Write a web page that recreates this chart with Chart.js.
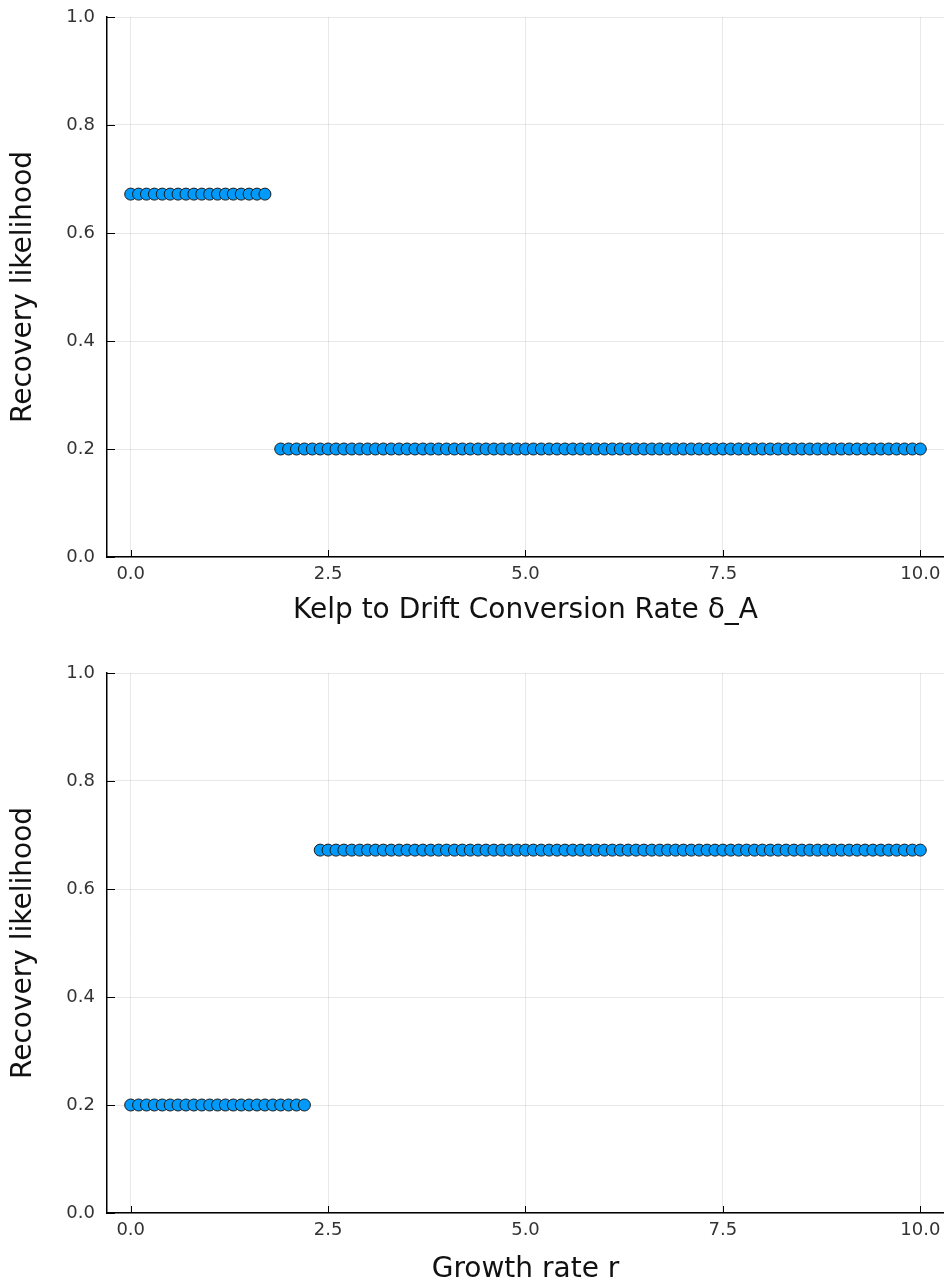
<!DOCTYPE html>
<html>
<head>
<meta charset="utf-8">
<script src="https://cdn.jsdelivr.net/npm/chart.js@4/dist/chart.umd.min.js"></script>
<style>
  body { margin: 0; background: #fff; }
  .box { position: absolute; left: 0; width: 944px; }
  #top { top: 0; height: 640px; }
  #bottom { top: 640px; height: 645px; }
</style>
</head>
<body>
<div class="box" id="top"><canvas id="c1"></canvas></div>
<div class="box" id="bottom"><canvas id="c2"></canvas></div>
<script>
// x grid 0:0.1:10, one value missing in each run
const deltaA = [];
const deltaLikelihood = [];
const growthR = [];
const growthLikelihood = [];

// top panel: 0.0..1.7 -> 0.672, 1.9..10.0 -> 0.2
const topHigh = 0.672, topLow = 0.2;
for (let i = 0; i <= 100; i++) {
  if (i === 18) continue;
  deltaA.push(i / 10);
  deltaLikelihood.push(i < 18 ? topHigh : topLow);
}
// bottom panel: 0.0..2.2 -> 0.2, 2.4..10.0 -> 0.672
for (let i = 0; i <= 100; i++) {
  if (i === 23) continue;
  growthR.push(i / 10);
  growthLikelihood.push(i < 23 ? topLow : topHigh);
}

const xTicks = [0, 2.5, 5, 7.5, 10];
const yTicks = [0, 0.2, 0.4, 0.6, 0.8, 1.0];

const FONT = "'DejaVu Sans', sans-serif";

// short tick marks pointing into the plot, like the GR backend
const innerTicks = {
  id: 'innerTicks',
  afterDraw(chart) {
    const ctx = chart.ctx;
    const x = chart.scales.x, y = chart.scales.y;
    ctx.save();
    ctx.strokeStyle = '#000';
    ctx.lineWidth = 1;
    ctx.beginPath();
    xTicks.forEach(v => {
      const px = Math.round(x.getPixelForValue(v)) + 0.5;
      ctx.moveTo(px, y.bottom);
      ctx.lineTo(px, y.bottom - 7);
    });
    yTicks.forEach(v => {
      const py = Math.round(y.getPixelForValue(v)) + 0.5;
      ctx.moveTo(x.left, py);
      ctx.lineTo(x.left + 8, py);
    });
    ctx.stroke();
    ctx.restore();
  }
};

function makeChart(id, xs, ys, xTitle, cfg) {
  const pts = xs.map((v, i) => ({ x: v, y: ys[i] }));
  return new Chart(document.getElementById(id), {
    type: 'scatter',
    data: {
      datasets: [{
        data: pts,
        backgroundColor: 'rgb(0,154,250)',
        borderColor: '#1a1a1a',
        borderWidth: 1,
        pointRadius: 6,
        pointHoverRadius: 6
      }]
    },
    options: {
      responsive: true,
      maintainAspectRatio: false,
      animation: false,
      events: [],
      layout: {
        autoPadding: false,
        padding: { top: cfg.top, right: 0, left: 0, bottom: 0 }
      },
      plugins: { legend: { display: false }, tooltip: { enabled: false } },
      scales: {
        x: {
          type: 'linear',
          min: -0.3,
          max: 10.3,
          afterBuildTicks: s => { s.ticks = xTicks.map(v => ({ value: v })); },
          afterFit: s => {
            s.height = cfg.xHeight;
            s.paddingLeft = 0;
            s.paddingRight = 0;
          },
          ticks: {
            callback: v => v.toFixed(1),
            font: { family: FONT, size: 18 },
            color: '#333',
            padding: 7,
            maxRotation: 0
          },
          grid: { color: 'rgba(0,0,0,0.09)', drawTicks: false },
          border: { color: '#000', width: 1.5 },
          title: {
            display: true,
            text: xTitle,
            font: { family: FONT, size: 28, lineHeight: 1 },
            color: '#111',
            padding: { top: 0, bottom: cfg.titlePad }
          }
        },
        y: {
          min: 0,
          max: 1,
          afterBuildTicks: s => { s.ticks = yTicks.map(v => ({ value: v })); },
          afterFit: s => {
            s.width = 107;
            s.paddingTop = 0;
            s.paddingBottom = 0;
          },
          ticks: {
            callback: v => v.toFixed(1),
            font: { family: FONT, size: 18 },
            color: '#333',
            padding: 12
          },
          grid: { color: 'rgba(0,0,0,0.09)', drawTicks: false },
          border: { color: '#000', width: 1.5 },
          title: {
            display: true,
            text: 'Recovery likelihood',
            font: { family: FONT, size: 28, lineHeight: 1 },
            color: '#111',
            padding: { top: 10, bottom: 0 }
          }
        }
      }
    },
    plugins: [innerTicks]
  });
}

makeChart('c1', deltaA, deltaLikelihood, 'Kelp to Drift Conversion Rate δ_A',
  { top: 17, xHeight: 83, titlePad: 15 });
makeChart('c2', growthR, growthLikelihood, 'Growth rate r',
  { top: 33, xHeight: 72, titlePad: 1 });
</script>
</body>
</html>
